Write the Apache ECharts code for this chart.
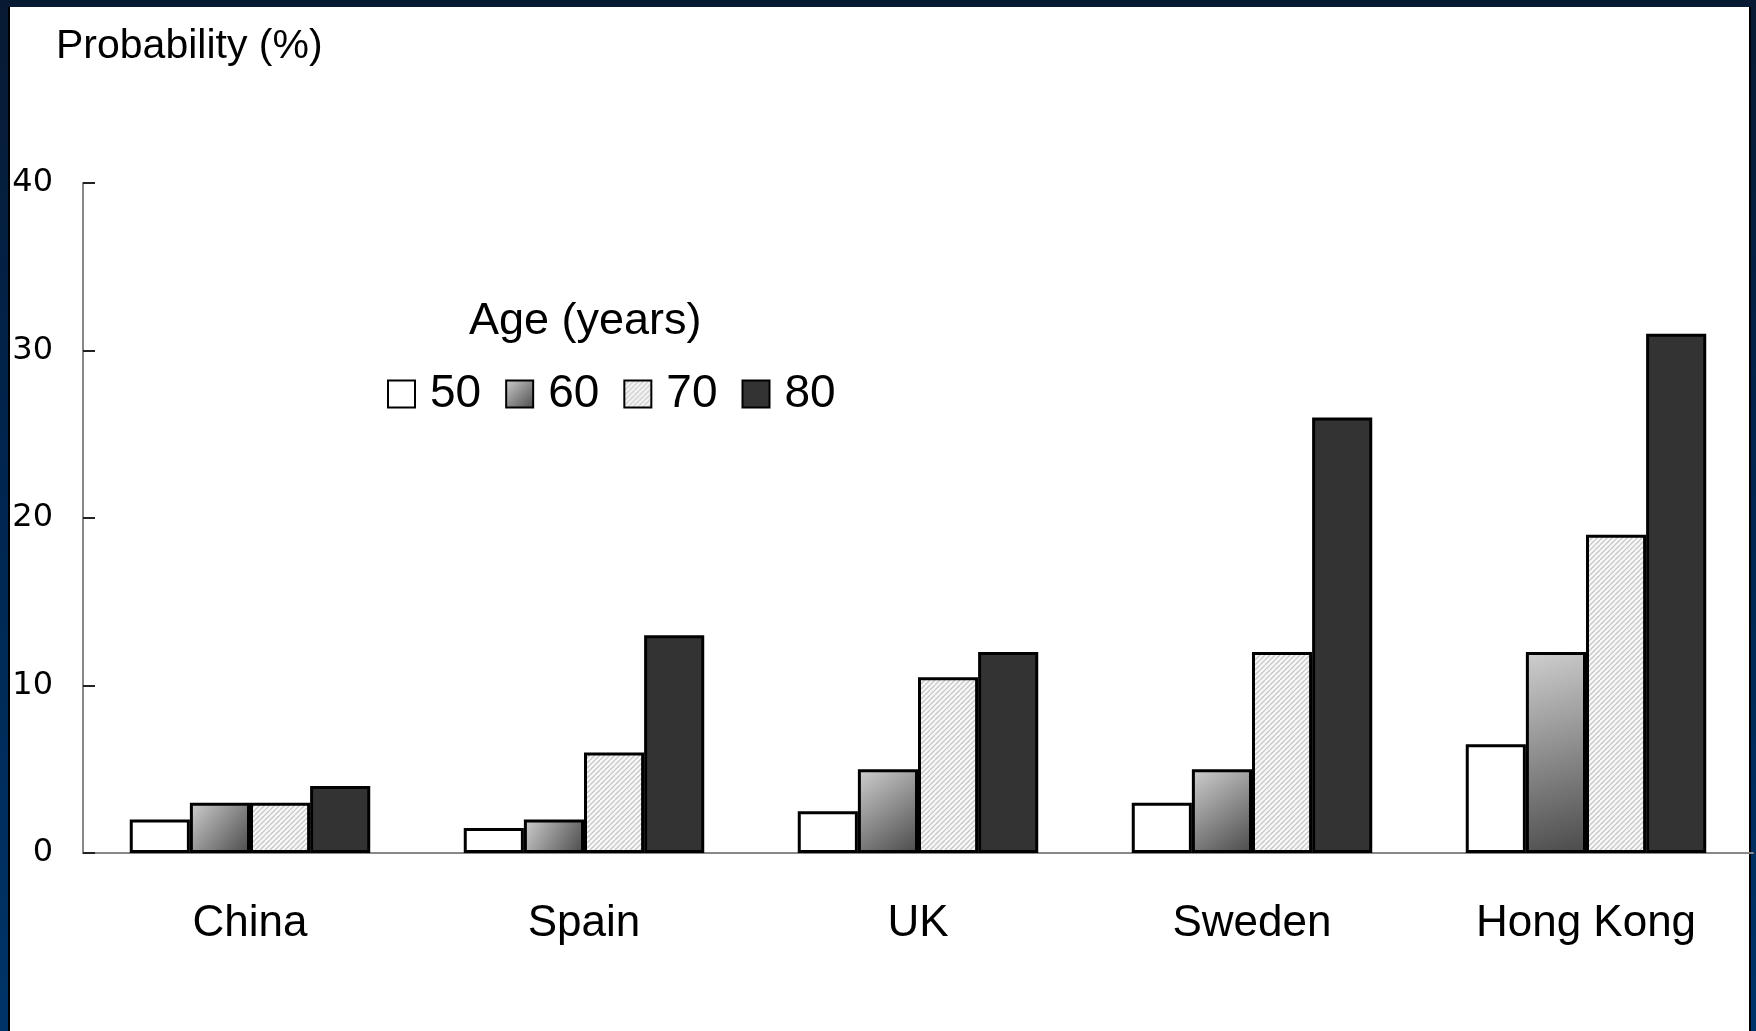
<!DOCTYPE html>
<html>
<head>
<meta charset="utf-8">
<title>Probability by age and region</title>
<script src="https://cdn.jsdelivr.net/npm/echarts@6/dist/echarts.min.js"></script>
<style>
  html, body { margin: 0; padding: 0; }
  body {
    width: 1756px; height: 1031px; overflow: hidden; position: relative;
    background: linear-gradient(to bottom, #081a33 0%, #00254f 45%, #003468 100%);
  }
  #panel {
    position: absolute; left: 8px; top: 7px; width: 1743px; height: 1024px;
    background: #ffffff; border-left: 2px solid #000; border-right: 2px solid #000;
    box-sizing: border-box;
  }
  #chart { position: absolute; left: 0; top: 0; width: 1756px; height: 1031px; }
</style>
</head>
<body>
<div id="panel"></div>
<div id="chart"></div>
<script>
// Regions along the x axis
const regions = ['China', 'Spain', 'UK', 'Sweden', 'Hong Kong'];
// Age groups (legend)
const ages = ['50', '60', '70', '80'];
// Probability (%) per age group, one value per region
const age50 = [2, 1.5, 2.5, 3, 6.5];
const age60 = [3, 2, 5, 5, 12];
const age70 = [3, 6, 10.5, 12, 19];
const age80 = [4, 13, 12, 26, 31];
// Value axis ticks
const yMin = 0, yMax = 40, yStep = 10;

const FONT = '"Liberation Sans", Arial, sans-serif';
const TICK_FONT = '"DejaVu Sans", sans-serif';

// Light diagonal hatching used for the 70-year bars
function hatchPattern() {
  const s = 5;
  const c = document.createElement('canvas');
  c.width = s; c.height = s;
  const g = c.getContext('2d');
  g.fillStyle = '#f8f8f8';
  g.fillRect(0, 0, s, s);
  g.strokeStyle = '#c6c6c6';
  g.lineWidth = 1.3;
  g.beginPath();
  for (let k = -1; k <= 1; k++) {
    g.moveTo(k * s, s);
    g.lineTo(k * s + s, 0);
  }
  g.stroke();
  return c;
}

const fills = [
  '#ffffff',
  new echarts.graphic.LinearGradient(0, 0, 1, 1, [
    { offset: 0, color: '#cfcfcf' },
    { offset: 1, color: '#4a4a4a' }
  ]),
  { image: hatchPattern(), repeat: 'repeat' },
  '#333333'
];
const values = [age50, age60, age70, age80];

const chart = echarts.init(document.getElementById('chart'), null, { renderer: 'canvas' });

chart.setOption({
  backgroundColor: 'transparent',
  animation: false,
  textStyle: { fontFamily: FONT },
  title: [
    {
      text: 'Probability (%)', left: 56, top: 26, padding: 0,
      textStyle: { fontFamily: FONT, fontSize: 41, fontWeight: 'normal', color: '#000' }
    },
    {
      text: 'Age (years)', left: 464, top: 294,
      textStyle: { fontFamily: FONT, fontSize: 45, fontWeight: 'normal', color: '#000' }
    }
  ],
  legend: {
    data: ages,
    left: 382, top: 366,
    itemWidth: 27, itemHeight: 27,
    itemGap: 24,
    icon: 'rect',
    textStyle: { fontFamily: FONT, fontSize: 46, color: '#000', padding: [0, 0, 0, 10] },
    selectedMode: false
  },
  grid: { left: 83, right: 3, top: 183, bottom: 178, containLabel: false },
  xAxis: {
    type: 'category',
    data: regions,
    axisLine: { lineStyle: { color: '#888888', width: 2 } },
    axisTick: { inside: true, length: 12, interval: 0, lineStyle: { color: '#222', width: 2 } },
    axisLabel: { fontFamily: FONT, fontSize: 44, color: '#000', margin: 49, interval: 0 }
  },
  yAxis: {
    type: 'value',
    min: yMin, max: yMax, interval: yStep,
    splitLine: { show: false },
    axisLine: { show: true, lineStyle: { color: '#888888', width: 2 } },
    axisTick: { show: true, inside: true, length: 12, lineStyle: { color: '#222', width: 2 } },
    axisLabel: { fontFamily: TICK_FONT, fontSize: 32, color: '#000', margin: 30 }
  },
  series: ages.map((a, i) => ({
    name: a,
    type: 'bar',
    data: values[i],
    barGap: '0%',
    barCategoryGap: '28%',
    itemStyle: { color: fills[i], borderColor: '#000', borderWidth: 3 }
  }))
});
</script>
</body>
</html>
